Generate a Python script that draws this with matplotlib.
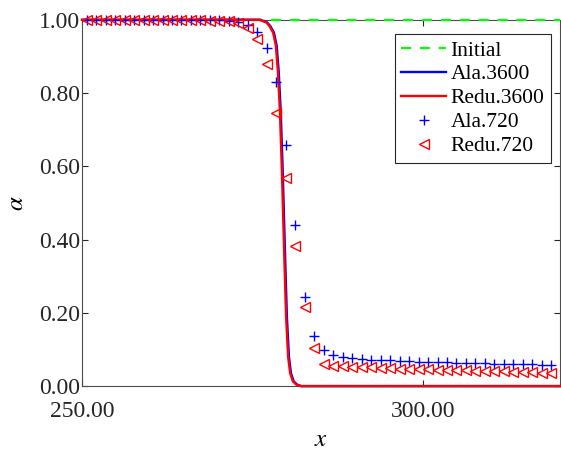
import numpy as np
import matplotlib
matplotlib.use('Agg')
from matplotlib import pyplot as plt

plt.rcParams['font.family'] = ['Liberation Serif', 'DejaVu Serif']
plt.rcParams['mathtext.fontset'] = 'stix'

# perfil inicial
x_ini = [250.0, 320.0]
a_ini = [1.0, 1.0]

# malla fina (3600 celdas)
x_fine = [250.0, 276.0, 277.0, 277.5, 278.0, 278.4, 278.7, 279.0, 279.3, 279.6,
          279.9, 280.2, 280.5, 280.9, 281.4, 282.0, 320.0]
a_ala3600 = [1.0, 1.0, 0.993, 0.982, 0.965, 0.93, 0.86, 0.75, 0.58, 0.38,
             0.19, 0.08, 0.035, 0.013, 0.004, 0.0, 0.0]
a_redu3600 = [1.0, 1.0, 0.993, 0.982, 0.965, 0.93, 0.86, 0.75, 0.58, 0.38,
              0.19, 0.08, 0.035, 0.013, 0.004, 0.0, 0.0]
x_ala3600 = [v + 0.12 for v in x_fine]

# malla gruesa (720 celdas), centros de celda
x_720 = [250.69, 252.08, 253.47, 254.86, 256.25, 257.64, 259.03, 260.42, 261.81,
         263.19, 264.58, 265.97, 267.36, 268.75, 270.14, 271.53, 272.92, 274.31,
         275.69, 277.08, 278.47, 279.86, 281.25, 282.64, 284.03, 285.42, 286.81,
         288.19, 289.58, 290.97, 292.36, 293.75, 295.14, 296.53, 297.92, 299.31,
         300.69, 302.08, 303.47, 304.86, 306.25, 307.64, 309.03, 310.42, 311.81,
         313.19, 314.58, 315.97, 317.36, 318.75]
a_ala720 = [1.0, 1.0, 1.0, 1.0, 1.0, 1.0, 1.0, 1.0, 1.0,
            1.0, 1.0, 1.0, 0.999, 0.999, 0.999, 0.998, 0.993, 0.986,
            0.968, 0.924, 0.829, 0.657, 0.44, 0.244, 0.137, 0.098, 0.085,
            0.080, 0.076, 0.074, 0.072, 0.071, 0.070, 0.069, 0.068, 0.067,
            0.066, 0.066, 0.065, 0.064, 0.063, 0.063, 0.062, 0.061, 0.061,
            0.060, 0.059, 0.059, 0.058, 0.058]
a_redu720 = [1.0, 1.0, 1.0, 1.0, 1.0, 1.0, 1.0, 1.0, 1.0,
             1.0, 1.0, 0.999, 0.999, 0.998, 0.998, 0.996, 0.99, 0.977,
             0.947, 0.880, 0.745, 0.569, 0.383, 0.217, 0.105, 0.059, 0.056,
             0.054, 0.053, 0.052, 0.051, 0.050, 0.049, 0.048, 0.047, 0.047,
             0.046, 0.045, 0.044, 0.044, 0.043, 0.042, 0.041, 0.041, 0.040,
             0.039, 0.038, 0.038, 0.037, 0.036]

fig = plt.figure(figsize=(5.61, 4.5), dpi=100)
ax = fig.add_axes([0.146, 0.142, 0.852, 0.814])

# curvas encima de los ejes (zorder > spines)
ax.plot(x_ini, a_ini, color=(0, 1, 0), lw=1.6, ls=(0, (4.5, 4.0)), clip_on=False,
        zorder=3, label='Initial')
ax.plot(x_ala3600, a_ala3600, color='b', lw=1.7, clip_on=False, zorder=3,
        label='Ala.3600')
ax.plot(x_fine, a_redu3600, color='r', lw=1.7, clip_on=False, zorder=3,
        label='Redu.3600')
ax.plot(x_720, a_ala720, '+', color='b', ms=6.5, mew=1.0, clip_on=False, zorder=3,
        label='Ala.720')
ax.plot(x_720, a_redu720, '<', color='r', mfc='none', ms=7.5, mew=1.0, clip_on=False,
        zorder=3, label='Redu.720')

ax.set_xlim(250, 320)
ax.set_ylim(0, 1)
ax.set_xticks([250, 300])
ax.set_yticks([0, 0.2, 0.4, 0.6, 0.8, 1.0])
ax.xaxis.set_major_formatter(matplotlib.ticker.FormatStrFormatter('%.2f'))
ax.yaxis.set_major_formatter(matplotlib.ticker.FormatStrFormatter('%.2f'))
ax.tick_params(direction='in', top=True, right=True, length=4, width=0.8,
               labelsize=17, colors='0.15')
ax.tick_params(axis='y', pad=1)
ax.tick_params(axis='x', pad=11)
for s in ax.spines.values():
    s.set_color('0.3')
    s.set_linewidth(0.8)

ax.set_xlabel(r'$x$', fontsize=18, labelpad=5)
ax.set_ylabel(r'$\alpha$', fontsize=18, labelpad=8)

leg = ax.legend(loc='upper right', bbox_to_anchor=(551 / 561, 1 - 34 / 450),
                bbox_transform=fig.transFigure, borderaxespad=0, fontsize=15.5,
                fancybox=False, framealpha=1, edgecolor='0.15', handlelength=2.1,
                handletextpad=0.2, labelspacing=0.18, borderpad=0.3)
leg.get_frame().set_linewidth(0.8)
leg.set_zorder(5)

fig.savefig('out.png', dpi=100)
